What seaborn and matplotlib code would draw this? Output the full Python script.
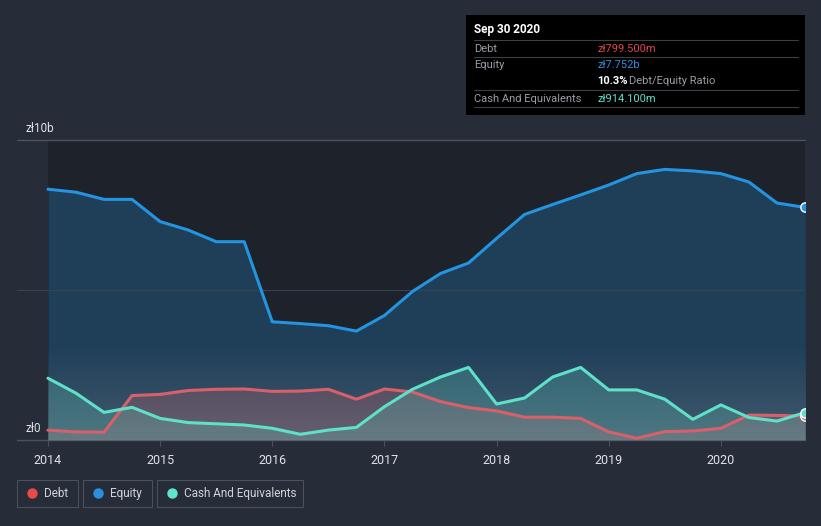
import numpy as np
import pandas as pd
import matplotlib
matplotlib.use("Agg")
import matplotlib.pyplot as plt
import seaborn as sns

# ---- data (values in billions of zł), quarterly ----
quarters = [2014.0, 2014.25, 2014.5, 2014.75, 2015.0, 2015.25, 2015.5, 2015.75,
            2016.0, 2016.25, 2016.5, 2016.75, 2017.0, 2017.25, 2017.5, 2017.75,
            2018.0, 2018.25, 2018.5, 2018.75, 2019.0, 2019.25, 2019.5, 2019.75,
            2020.0, 2020.25, 2020.5, 2020.75]
debt = [0.33, 0.27, 0.26, 1.48, 1.52, 1.65, 1.69, 1.70,
        1.62, 1.63, 1.69, 1.36, 1.70, 1.60, 1.28, 1.08,
        0.97, 0.76, 0.76, 0.72, 0.27, 0.06, 0.28, 0.30,
        0.39, 0.83, 0.82, 0.7995]
equity = [8.36, 8.26, 8.02, 8.02, 7.28, 7.00, 6.61, 6.61,
          3.94, 3.88, 3.81, 3.63, 4.15, 4.95, 5.55, 5.90,
          6.72, 7.52, 7.85, 8.17, 8.50, 8.88, 9.02, 8.97,
          8.88, 8.60, 7.90, 7.752]
cash = [2.06, 1.56, 0.92, 1.09, 0.72, 0.58, 0.54, 0.50,
        0.39, 0.19, 0.33, 0.42, 1.11, 1.69, 2.10, 2.42,
        1.20, 1.40, 2.10, 2.42, 1.67, 1.67, 1.36, 0.69,
        1.17, 0.75, 0.63, 0.914]
year_ticks = [2014, 2015, 2016, 2017, 2018, 2019, 2020]
series_names = ["Debt", "Equity", "Cash And Equivalents"]

C_DEBT = "#d9606a"
C_EQ = "#2394df"
C_CASH = "#5fe0c9"
LEG_DEBT = "#e84a4a"
LEG_EQ = "#2b8fe0"
LEG_CASH = "#5ee5cc"
BG = "#262c38"
DARK = "#1e222b"

sns.set_theme(style="dark")
plt.rcParams["font.family"] = ["Roboto", "DejaVu Sans"]

fig = plt.figure(figsize=(8.21, 5.26), dpi=100, facecolor=BG)
ax = fig.add_axes([17/821, 1-440/526, (805-17)/821, 300/526])
ax.set_facecolor(BG)

x0, x1 = 2013.724, 2020.75
ax.set_xlim(x0, x1)
ax.set_ylim(0, 10)

# dark plot region
ax.axvspan(quarters[0], x1, color=DARK, zorder=0, lw=0)

df = pd.DataFrame({
    "date": quarters * 3,
    "value": debt + equity + cash,
    "series": [series_names[0]] * len(quarters) + [series_names[1]] * len(quarters)
              + [series_names[2]] * len(quarters),
})

# fills
ax.fill_between(quarters, 0, equity, color=C_EQ, alpha=0.25, lw=0, zorder=1)
ax.fill_between(quarters, 0, debt, color="#a0505c", alpha=0.35, lw=0, zorder=2)
ax.fill_between(quarters, 0, cash, color="#4fb8aa", alpha=0.30, lw=0, zorder=2)

# light gradient near the bottom
grad = np.linspace(0.22, 0.0, 100).reshape(-1, 1)
rgba = np.zeros((100, 1, 4))
rgba[..., :3] = 0.75
rgba[..., 3] = grad
ax.imshow(rgba, extent=[quarters[0], quarters[-1], 0, 3.2], origin="lower",
          aspect="auto", zorder=2.5, interpolation="bilinear")

# grid lines
ax.axhline(5, color="#3a4250", lw=0.8, zorder=1.5)
ax.axhline(10, color="#4a5160", lw=1.0, zorder=1.5, clip_on=False)
ax.axhline(0, color="#4a5160", lw=1.0, zorder=1.5, clip_on=False)

sns.lineplot(data=df, x="date", y="value", hue="series",
             palette={series_names[0]: C_DEBT, series_names[1]: C_EQ, series_names[2]: C_CASH},
             hue_order=[series_names[1], series_names[0], series_names[2]],
             lw=2.2, ax=ax, legend=False, zorder=4)

for vals, c in [(equity, C_EQ), (debt, C_DEBT), (cash, C_CASH)]:
    ax.scatter([quarters[-1]], [vals[-1]], s=45, facecolor=c, edgecolor="white",
               linewidth=1.0, zorder=5, clip_on=True)

for s in ax.spines.values():
    s.set_visible(False)
ax.set_xlabel("")
ax.set_ylabel("")
ax.set_yticks([])
ax.set_xticks(year_ticks)
ax.set_xticklabels([str(y) for y in year_ticks], color="#dfe2e6", fontsize=9)
ax.tick_params(axis="x", length=4, width=0.8, color="#4a5160", pad=6, bottom=True)
ax.grid(False)

# y labels
fig.text(25/821, 1-128/526, "zł10b", color="#dfe2e6", fontsize=8.5, va="center", ha="left")
fig.text(25/821, 1-428/526, "zł0", color="#dfe2e6", fontsize=8.5, va="center", ha="left")

# tooltip box
W, H = 821, 526
def fx(px): return px / W
def fy(py): return 1 - py / H
fig.patches.append(plt.Rectangle((fx(466), fy(115)), (805-466)/W, 100/H, transform=fig.transFigure,
                                 facecolor="black", edgecolor="none", zorder=10))
fig.text(fx(474), fy(30), "Sep 30 2020", color="white", fontsize=8.5, fontweight="bold",
         va="center", zorder=11)
for ly in [40, 57, 90.5, 107]:
    fig.add_artist(plt.Line2D([fx(474), fx(798)], [fy(ly), fy(ly)], color="#3c3f44", lw=0.8,
                              transform=fig.transFigure, zorder=11))
gray = "#9a9ea5"
fig.text(fx(474), fy(48.5), "Debt", color=gray, fontsize=8, va="center", zorder=11)
fig.text(fx(597), fy(48.5), "zł799.500m", color="#e0444c", fontsize=8, va="center", zorder=11)
fig.text(fx(474), fy(65), "Equity", color=gray, fontsize=8, va="center", zorder=11)
fig.text(fx(597), fy(65), "zł7.752b", color="#2e8fe0", fontsize=8, va="center", zorder=11)
t = fig.text(fx(597), fy(81.5), "10.3%", color="white", fontsize=8, fontweight="bold",
             va="center", zorder=11)
fig.text(fx(629), fy(81.5), "Debt/Equity Ratio", color=gray, fontsize=8, va="center", zorder=11)
fig.text(fx(474), fy(98.5), "Cash And Equivalents", color=gray, fontsize=8, va="center", zorder=11)
fig.text(fx(597), fy(98.5), "zł914.100m", color="#5fe0c9", fontsize=8, va="center", zorder=11)

# legend boxes
legend_items = [(series_names[0], LEG_DEBT, 17, 78), (series_names[1], LEG_EQ, 83, 152),
                (series_names[2], LEG_CASH, 157, 303)]
for name, c, xa, xb in legend_items:
    fig.patches.append(plt.Rectangle((fx(xa), fy(507)), (xb-xa)/W, 27/H, transform=fig.transFigure,
                                     facecolor="none", edgecolor="#4a505c", lw=0.8))
    fig.add_artist(plt.Line2D([fx(xa+15)], [fy(493)], marker="o", markersize=6.5, color=c,
                              lw=0, transform=fig.transFigure))
    fig.text(fx(xa+27), fy(493.5), name, color="#d0d4da", fontsize=8.5, va="center", ha="left")

fig.savefig("out.png", dpi=100, facecolor=BG)
